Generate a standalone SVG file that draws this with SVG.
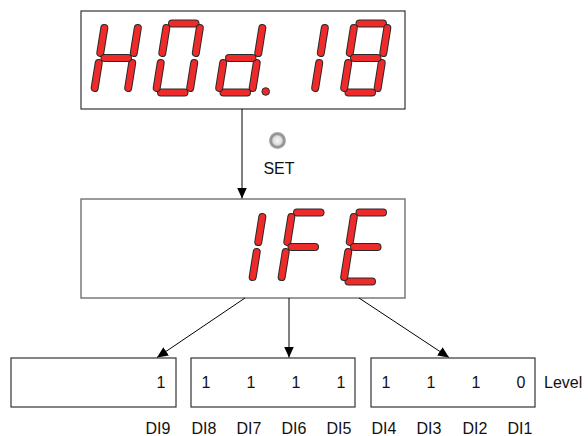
<svg xmlns="http://www.w3.org/2000/svg" width="588" height="436" viewBox="0 0 588 436">
<style>
.o{stroke:#2a2a2a;stroke-width:8;stroke-linecap:round;fill:none}
.i{stroke:#ee2a2a;stroke-width:6;stroke-linecap:round;fill:none}
.t{font-family:"Liberation Sans",Arial,sans-serif;font-size:16px;fill:#111}
.ln{stroke:#000;stroke-width:1;fill:none}
.box{fill:#fff;stroke:#333;stroke-width:1.2}
.gbox{fill:#fff;stroke:#7a7a7a;stroke-width:1.5}
</style>
<defs>
<g id="sa"><line class="o" x1="10.5" y1="23.5" x2="34" y2="23.5"/><line class="i" x1="10.5" y1="23.5" x2="34" y2="23.5"/></g>
<g id="sb"><line class="o" x1="38.3" y1="28" x2="34.3" y2="53"/><line class="i" x1="38.3" y1="28" x2="34.3" y2="53"/></g>
<g id="sc"><line class="o" x1="32.7" y1="63" x2="28.7" y2="88"/><line class="i" x1="32.7" y1="63" x2="28.7" y2="88"/></g>
<g id="sd"><line class="o" x1="-0.5" y1="92.5" x2="23" y2="92.5"/><line class="i" x1="-0.5" y1="92.5" x2="23" y2="92.5"/></g>
<g id="se"><line class="o" x1="-0.8" y1="63" x2="-4.8" y2="88"/><line class="i" x1="-0.8" y1="63" x2="-4.8" y2="88"/></g>
<g id="sf"><line class="o" x1="4.8" y1="28" x2="0.8" y2="53"/><line class="i" x1="4.8" y1="28" x2="0.8" y2="53"/></g>
<g id="sg"><line class="o" x1="5" y1="58" x2="28.5" y2="58"/><line class="i" x1="5" y1="58" x2="28.5" y2="58"/></g>
<marker id="ah" viewBox="0 0 11 10" refX="11" refY="5" markerWidth="11" markerHeight="10" markerUnits="userSpaceOnUse" orient="auto"><path d="M0,0 L11,5 L0,10 z" fill="#000"/></marker>
<radialGradient id="btn" cx="0.5" cy="0.5" r="0.5">
<stop offset="0" stop-color="#f6f6f6"/>
<stop offset="0.5" stop-color="#dedede"/>
<stop offset="0.75" stop-color="#8c8c8c"/>
<stop offset="1" stop-color="#b0b0b0"/>
</radialGradient>
</defs>

<g id="display-top">
<rect class="box" x="81" y="11" width="324" height="98"/>
<g id="digit-H"><use href="#sb" x="99.5"/><use href="#sc" x="99.5"/><use href="#se" x="99.5"/><use href="#sf" x="99.5"/><use href="#sg" x="99.5"/></g>
<g id="digit-0"><use href="#sa" x="161.5"/><use href="#sb" x="161.5"/><use href="#sc" x="161.5"/><use href="#sd" x="161.5"/><use href="#se" x="161.5"/><use href="#sf" x="161.5"/></g>
<g id="digit-d"><use href="#sb" x="224"/><use href="#sc" x="224"/><use href="#sd" x="224"/><use href="#se" x="224"/><use href="#sg" x="224"/>
<circle cx="265.7" cy="91.5" r="3.8" fill="#ee2a2a" stroke="#2a2a2a" stroke-width="1"/></g>
<g id="digit-1"><use href="#sb" x="286.5"/><use href="#sc" x="286.5"/></g>
<g id="digit-8"><use href="#sa" x="349"/><use href="#sb" x="349"/><use href="#sc" x="349"/><use href="#sd" x="349"/><use href="#se" x="349"/><use href="#sf" x="349"/><use href="#sg" x="349"/></g>
</g>

<g id="set-button">
<circle cx="277.5" cy="140.5" r="8.5" fill="url(#btn)"/>
<text class="t" x="279" y="174" text-anchor="middle">SET</text>
</g>

<g id="display-mid">
<rect class="gbox" x="81" y="199" width="324" height="99"/>
<g transform="translate(0,189)">
<g id="mdigit-1"><use href="#sb" x="224"/><use href="#sc" x="224"/></g>
<g id="mdigit-F"><use href="#sa" x="286.5"/><use href="#se" x="286.5"/><use href="#sf" x="286.5"/><use href="#sg" x="286.5"/></g>
<g id="mdigit-E"><use href="#sa" x="349"/><use href="#sd" x="349"/><use href="#se" x="349"/><use href="#sf" x="349"/><use href="#sg" x="349"/></g>
</g>
</g>

<g id="connectors">
<line class="ln" x1="242" y1="109" x2="242" y2="198.5" marker-end="url(#ah)"/>
<line class="ln" x1="245" y1="298" x2="157" y2="357.5" marker-end="url(#ah)"/>
<line class="ln" x1="289" y1="298" x2="289" y2="357.5" marker-end="url(#ah)"/>
<line class="ln" x1="359" y1="298" x2="449" y2="357.5" marker-end="url(#ah)"/>
</g>

<g id="group-1">
<rect class="box" x="11" y="358" width="165" height="49"/>
<text class="t" x="161" y="388" text-anchor="middle">1</text>
</g>
<g id="group-2">
<rect class="box" x="191" y="358" width="164" height="49"/>
<text class="t" x="206" y="388" text-anchor="middle">1</text>
<text class="t" x="251" y="388" text-anchor="middle">1</text>
<text class="t" x="296" y="388" text-anchor="middle">1</text>
<text class="t" x="341" y="388" text-anchor="middle">1</text>
</g>
<g id="group-3">
<rect class="box" x="371" y="358" width="164" height="49"/>
<text class="t" x="386" y="388" text-anchor="middle">1</text>
<text class="t" x="431" y="388" text-anchor="middle">1</text>
<text class="t" x="476" y="388" text-anchor="middle">1</text>
<text class="t" x="521" y="388" text-anchor="middle">0</text>
</g>
<text class="t" x="544" y="388">Level</text>

<g id="di-labels">
<text class="t" x="158" y="434" text-anchor="middle">DI9</text>
<text class="t" x="204" y="434" text-anchor="middle">DI8</text>
<text class="t" x="249" y="434" text-anchor="middle">DI7</text>
<text class="t" x="294" y="434" text-anchor="middle">DI6</text>
<text class="t" x="339" y="434" text-anchor="middle">DI5</text>
<text class="t" x="384" y="434" text-anchor="middle">DI4</text>
<text class="t" x="429" y="434" text-anchor="middle">DI3</text>
<text class="t" x="475" y="434" text-anchor="middle">DI2</text>
<text class="t" x="520" y="434" text-anchor="middle">DI1</text>
</g>
</svg>
